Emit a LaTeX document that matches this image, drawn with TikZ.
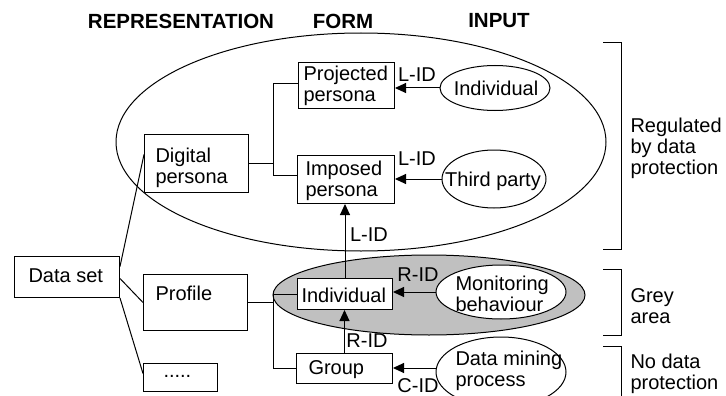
\documentclass[tikz,border=0pt]{standalone}
\usepackage{fontspec}
\setmainfont{Liberation Sans}
\usetikzlibrary{arrows.meta,shapes.geometric}
\definecolor{greyfill}{RGB}{192,192,192}
\begin{document}
\begin{tikzpicture}[x=1pt,y=-1pt,line width=1pt,
  box/.style={draw,fill=white,inner sep=0pt,anchor=north west},
  oval/.style={draw,ellipse,inner sep=0pt},
  txt/.style={inner sep=0pt,anchor=north west,align=left,font=\fontsize{20}{21}\selectfont},
  lbl/.style={inner sep=0pt,font=\fontsize{20}{21}\selectfont},
  hdr/.style={inner sep=0pt,font=\bfseries\fontsize{20.5}{22}\selectfont},
  arr/.style={-{Triangle[length=11pt,width=10pt]}}]
\useasboundingbox (0,0) rectangle (726,396);
% headers
\node[hdr] (h1) at (181,21) {REPRESENTATION};
\node[hdr] (h2) at (343,21) {FORM};
\node[hdr] (h3) at (499,21) {INPUT};
% regions
\node[oval,minimum width=490pt,minimum height=218pt] (big) at (361,142) {};
\node[oval,fill=greyfill,minimum width=312pt,minimum height=80pt] (grey) at (429,295) {};
% boxes
\node[box,minimum width=104pt,minimum height=58pt] (dp) at (144,134) {};
\node[box,minimum width=96pt,minimum height=46pt] (pp) at (298,62) {};
\node[box,minimum width=97pt,minimum height=48pt] (ip) at (297,155) {};
\node[box,minimum width=105pt,minimum height=41pt] (ds) at (14,256) {};
\node[box,minimum width=104pt,minimum height=56pt] (pf) at (143,274) {};
\node[box,minimum width=74pt,minimum height=28pt] (dt) at (143,363) {};
\node[box,minimum width=95pt,minimum height=31pt] (iv) at (297,278) {};
\node[box,minimum width=96pt,minimum height=30pt] (gr) at (296,353) {};
% input ovals
\node[oval,fill=white,minimum width=110pt,minimum height=45pt] (e1) at (495,88) {};
\node[oval,fill=white,minimum width=104pt,minimum height=58pt] (e2) at (494,179) {};
\node[oval,fill=white,minimum width=130pt,minimum height=54pt] (e3) at (501,292) {};
\node[oval,fill=white,minimum width=130pt,minimum height=70pt] (e4) at (501,372) {};
% box texts
\node[txt] (tdp) at (155,147.5) {Digital\\persona};
\node[txt] (tpp) at (303,65.5) {Projected\\persona};
\node[txt] (tip) at (305,160.5) {Imposed\\persona};
\node[txt] (tds) at (28,268.5) {Data set};
\node[txt] (tpf) at (155,285.5) {Profile};
\node[txt,anchor=base west] (tdt) at (163,377) {.....};
\node[txt] (tiv) at (301,287.5) {Individual};
\node[txt] (tgr) at (308,360.5) {Group};
% input texts
\node[lbl] (te1) at (496,88) {Individual};
\node[lbl] (te2) at (493,181) {Third party};
\node[txt] (te3) at (455,275.5) {Monitoring\\behaviour};
\node[txt] (te4) at (455,350.5) {Data mining\\process};
% right labels
\node[txt] (r1) at (630,117.5) {Regulated\\by data\\protection};
\node[txt] (r2) at (630,288.5) {Grey\\area};
\node[txt] (r3) at (630,353.5) {No data\\protection};
% brackets
\draw (603,43) -- (621,43) -- (621,249) -- (603,249);
\draw (603,269) -- (621,269) -- (621,335) -- (603,335);
\draw (603,346) -- (621,346) -- (621,400);
% attachment points
\coordinate (bx) at (273,0);
\coordinate (ds1) at ([yshift=10.5pt]ds.east);
\coordinate (ds2) at ([yshift=-1.5pt]ds.east);
\coordinate (dpw) at ([yshift=9pt]dp.west);
\coordinate (dtw) at ([yshift=4pt]dt.west);
\coordinate (ppw) at ([yshift=2pt]pp.west);
\coordinate (ipw) at ([yshift=4pt]ip.west);
\coordinate (e4w) at ([yshift=4pt]e4.west);
% tree connectors
\draw (ds1) -- (dpw);
\draw (ds2) -- (pf.west);
\draw (ds.south east) -- (dtw);
\draw (dp.east) -- (bx |- dp.east);
\draw (ppw) -- (bx |- ppw) -- (bx |- ipw) -- (ipw);
\draw (pf.east) -- (bx |- pf.east);
\draw (iv.west) -- (bx |- iv.west) -- (bx |- gr.west) -- (gr.west);
% identification arrows
\draw[arr] (e1.west) -- (pp.east |- e1.west);
\draw[arr] (e2.west) -- (ip.east |- e2.west);
\draw[arr] (e3.west) -- (iv.east |- e3.west);
\draw[arr] (e4w) -- (gr.east |- e4w);
\draw[arr] (iv.north) -- (iv.north |- ip.south);
\draw[arr] (gr.north) -- (gr.north |- iv.south);
% arrow labels
\node[lbl] (l1) at (417,75) {L-ID};
\node[lbl] (l2) at (417,159) {L-ID};
\node[lbl] (l3) at (369,235) {L-ID};
\node[lbl] (l4) at (418,275) {R-ID};
\node[lbl] (l5) at (367,341) {R-ID};
\node[lbl] (l6) at (418,386) {C-ID};
\end{tikzpicture}
\end{document}
